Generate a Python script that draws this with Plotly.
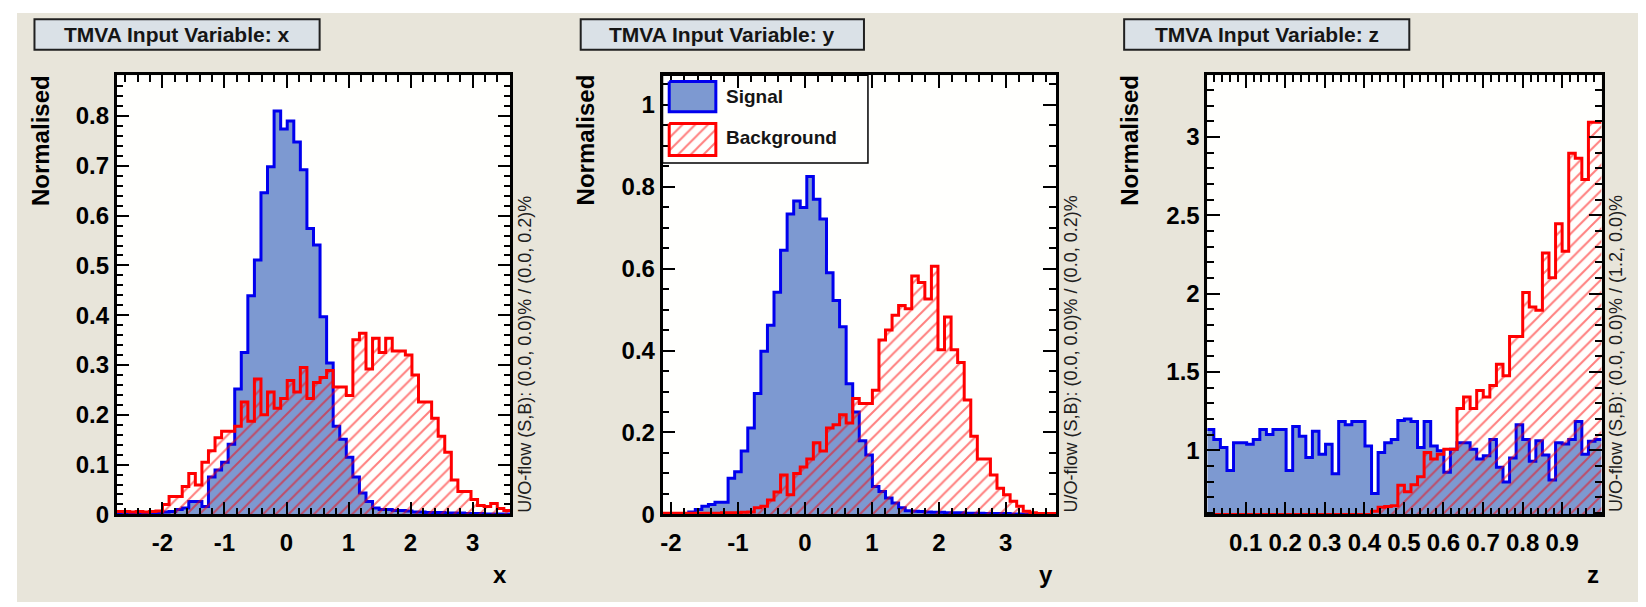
import numpy as np
import plotly.graph_objects as go

W, H = 1646, 607

# ---------------- data ----------------
var_names = ["x", "y", "z"]
titles = ["TMVA Input Variable: x", "TMVA Input Variable: y", "TMVA Input Variable: z"]
uo_texts = ["U/O-flow (S,B): (0.0, 0.0)% / (0.0, 0.2)%",
            "U/O-flow (S,B): (0.0, 0.0)% / (0.0, 0.2)%",
            "U/O-flow (S,B): (0.0, 0.0)% / (1.2, 0.0)%"]
n_bins = 60
hist_range_x = [-2.74, 3.61]
hist_range_y = [-2.125, 3.75]
hist_range_z = [0.003, 0.9995]

x_tick_vals = [-2, -1, 0, 1, 2, 3]
x_tick_text = ["-2", "-1", "0", "1", "2", "3"]
y_tick_vals = [-2, -1, 0, 1, 2, 3]
y_tick_text = ["-2", "-1", "0", "1", "2", "3"]
z_tick_vals = [0.1, 0.2, 0.3, 0.4, 0.5, 0.6, 0.7, 0.8, 0.9]
z_tick_text = ["0.1", "0.2", "0.3", "0.4", "0.5", "0.6", "0.7", "0.8", "0.9"]

sig_x = [0.0, 0.0, 0.0, 0.001, 0.002, 0.003, 0.004, 0.005, 0.006, 0.010,
         0.013, 0.026, 0.026, 0.016, 0.075, 0.089, 0.105, 0.141, 0.252, 0.325,
         0.439, 0.511, 0.646, 0.698, 0.810, 0.774, 0.790, 0.748, 0.692, 0.574,
         0.541, 0.397, 0.304, 0.177, 0.151, 0.115, 0.075, 0.043, 0.026, 0.013,
         0.010, 0.010, 0.008, 0.008, 0.007, 0.005, 0.005, 0.004, 0.004, 0.004,
         0.003, 0.003, 0.003, 0.002, 0.002, 0.002, 0.001, 0.001, 0.001, 0.001]
bkg_x = [0.006, 0.006, 0.005, 0.006, 0.005, 0.006, 0.007, 0.020, 0.036, 0.036,
         0.056, 0.082, 0.059, 0.105, 0.128, 0.154, 0.167, 0.167, 0.177, 0.226,
         0.187, 0.272, 0.200, 0.246, 0.213, 0.233, 0.269, 0.246, 0.295, 0.233,
         0.265, 0.275, 0.289, 0.256, 0.256, 0.239, 0.351, 0.364, 0.292, 0.354,
         0.325, 0.354, 0.328, 0.328, 0.320, 0.280, 0.226, 0.226, 0.193, 0.157,
         0.125, 0.069, 0.046, 0.046, 0.030, 0.018, 0.016, 0.022, 0.012, 0.008]

sig_y = [0.0, 0.0, 0.001, 0.002, 0.006, 0.012, 0.020, 0.024, 0.030, 0.030,
         0.088, 0.104, 0.155, 0.211, 0.295, 0.398, 0.462, 0.542, 0.645, 0.733,
         0.765, 0.749, 0.825, 0.769, 0.721, 0.590, 0.522, 0.458, 0.319, 0.250,
         0.180, 0.145, 0.068, 0.056, 0.040, 0.028, 0.016, 0.009, 0.008, 0.007,
         0.006, 0.005, 0.005, 0.004, 0.004, 0.004, 0.003, 0.003, 0.003, 0.002,
         0.002, 0.002, 0.002, 0.001, 0.001, 0.001, 0.001, 0.0, 0.0, 0.0]
bkg_y = [0.003, 0.003, 0.003, 0.003, 0.003, 0.003, 0.003, 0.003, 0.003, 0.004,
         0.004, 0.004, 0.005, 0.006, 0.016, 0.020, 0.035, 0.055, 0.096, 0.048,
         0.100, 0.116, 0.135, 0.175, 0.155, 0.211, 0.219, 0.243, 0.223, 0.283,
         0.271, 0.271, 0.303, 0.426, 0.450, 0.486, 0.510, 0.502, 0.582, 0.566,
         0.526, 0.606, 0.402, 0.482, 0.402, 0.371, 0.279, 0.191, 0.135, 0.135,
         0.096, 0.064, 0.048, 0.032, 0.020, 0.008, 0.004, 0.002, 0.002, 0.002]

sig_z = [1.132, 1.069, 1.017, 0.871, 1.048, 1.048, 1.038, 1.069, 1.132, 1.100,
         1.132, 1.132, 0.871, 1.152, 1.090, 0.954, 1.121, 0.975, 1.038, 0.850,
         1.184, 1.163, 1.184, 1.184, 1.027, 0.724, 0.985, 1.048, 1.069, 1.190,
         1.200, 1.184, 1.017, 1.184, 1.027, 0.996, 0.860, 1.006, 1.048, 1.048,
         1.006, 0.944, 0.964, 1.069, 0.891, 0.797, 0.950, 1.163, 1.069, 0.930,
         1.060, 0.970, 0.810, 1.048, 1.040, 1.069, 1.184, 0.975, 1.058, 1.069]
# bins 0-24 lie below the visible axis minimum (estimates)
bkg_z = [0.00, 0.00, 0.00, 0.01, 0.01, 0.02, 0.02, 0.03, 0.04, 0.05,
         0.06, 0.08, 0.09, 0.11, 0.13, 0.15, 0.17, 0.20, 0.23, 0.26,
         0.30, 0.34, 0.38, 0.43, 0.52, 0.610, 0.635, 0.641, 0.645, 0.777,
         0.735, 0.780, 0.830, 0.985, 0.944, 0.975, 1.006, 1.006, 1.267, 1.340,
         1.267, 1.382, 1.340, 1.413, 1.549, 1.476, 1.727, 1.727, 2.008, 1.914,
         1.894, 2.259, 2.102, 2.447, 2.270, 2.896, 2.864, 2.729, 3.094, 3.094]

y_ranges = [[0.0, 0.882], [0.0, 1.072], [0.59, 3.395]]
y_dticks = [0.1, 0.2, 0.5]
y_minor = [0.02, 0.05, 0.1]
x_minor = [0.2, 0.2, 0.02]

# ---------------- style ----------------
BEIGE = "#e8e5da"
TITLE_FILL = "#dae1e7"
SIG_LINE = "#0000ee"
SIG_FILL = "#7d99d1"
BKG_LINE = "#ff0000"
FONT = "Liberation Sans"

def px_x(p):
    return p / W

def px_y(p):
    return 1 - p / H

frames_x = [(106.7, 501.0), (653.3, 1047.3), (1198.7, 1593.5)]
frame_top, frame_bot = 68.7, 517.5
title_boxes = [(24.5, 310.0), (571.4, 855.0), (1115.5, 1401.0)]
ylabel_x = [30, 576, 1120]

fig = go.Figure()

sigs = [sig_x, sig_y, sig_z]
bkgs = [bkg_x, bkg_y, bkg_z]
ranges = [hist_range_x, hist_range_y, hist_range_z]
tick_vals = [x_tick_vals, y_tick_vals, z_tick_vals]
tick_text = [x_tick_text, y_tick_text, z_tick_text]

hatch = dict(shape="/", fgcolor=BKG_LINE, bgcolor="rgba(0,0,0,0)",
             size=9, solidity=0.22, fillmode="overlay")

for i in range(3):
    edges = np.linspace(ranges[i][0], ranges[i][1], n_bins + 1)
    ymin = y_ranges[i][0]
    s = np.maximum(np.array(sigs[i], dtype=float), ymin)
    b = np.maximum(np.array(bkgs[i], dtype=float), ymin)
    xs = f"x{i+1}" if i else "x"
    ys = f"y{i+1}" if i else "y"
    fig.add_trace(go.Scatter(
        x=edges, y=np.append(s, s[-1]), mode="lines", line_shape="hv",
        line=dict(color=SIG_LINE, width=3), fill="tozeroy", fillcolor=SIG_FILL,
        xaxis=xs, yaxis=ys, showlegend=False, hoverinfo="skip"))
    fig.add_trace(go.Scatter(
        x=edges, y=np.append(b, b[-1]), mode="lines", line_shape="hv",
        line=dict(color=BKG_LINE, width=3), fill="tozeroy",
        fillcolor="rgba(0,0,0,0)", fillpattern=hatch,
        xaxis=xs, yaxis=ys, showlegend=False, hoverinfo="skip"))

# legend swatches (drawn on a full-figure pixel overlay axis)
sw_x0, sw_x1 = 660.0, 706.7
fig.add_trace(go.Scatter(
    x=[sw_x0, sw_x1, sw_x1, sw_x0, sw_x0], y=[75, 75, 106, 106, 75],
    mode="lines", fill="toself", fillcolor=SIG_FILL,
    line=dict(color=SIG_LINE, width=3), xaxis="x4", yaxis="y4",
    showlegend=False, hoverinfo="skip"))
fig.add_trace(go.Scatter(
    x=[sw_x0, sw_x1, sw_x1, sw_x0, sw_x0], y=[118, 118, 150.7, 150.7, 118],
    mode="lines", fill="toself", fillcolor="rgba(0,0,0,0)", fillpattern=hatch,
    line=dict(color=BKG_LINE, width=3), xaxis="x4", yaxis="y4",
    showlegend=False, hoverinfo="skip"))

tickfont = dict(family=FONT, size=24, color="black", weight="bold")
layout = dict(
    width=W, height=H, autosize=False,
    margin=dict(l=0, r=0, t=0, b=0),
    paper_bgcolor="white", plot_bgcolor="rgba(0,0,0,0)",
    showlegend=False,
)

for i in range(3):
    xk = f"xaxis{i+1}" if i else "xaxis"
    yk = f"yaxis{i+1}" if i else "yaxis"
    layout[xk] = dict(
        domain=[px_x(frames_x[i][0]), px_x(frames_x[i][1])],
        range=ranges[i], anchor=f"y{i+1}" if i else "y",
        ticks="inside", ticklen=13, tickwidth=2, tickcolor="black",
        showline=True, linewidth=2.5, linecolor="black", mirror="ticks",
        tickmode="array", tickvals=tick_vals[i], ticktext=tick_text[i],
        showgrid=False, zeroline=False,
        tickfont=tickfont, ticklabelstandoff=5,
        minor=dict(ticks="inside", ticklen=7, tickwidth=1.5, tickcolor="black",
                   dtick=x_minor[i], tick0=0, showgrid=False),
        fixedrange=True)
    layout[yk] = dict(
        domain=[px_y(frame_bot), px_y(frame_top)],
        range=y_ranges[i], anchor=f"x{i+1}" if i else "x",
        ticks="inside", ticklen=13, tickwidth=2, tickcolor="black",
        showline=True, linewidth=2.5, linecolor="black", mirror="ticks",
        dtick=y_dticks[i], tick0=0, showgrid=False, zeroline=False,
        tickfont=tickfont, ticklabelstandoff=0,
        minor=dict(ticks="inside", ticklen=7, tickwidth=1.5, tickcolor="black",
                   dtick=y_minor[i], tick0=0, showgrid=False),
        fixedrange=True)

layout["xaxis4"] = dict(domain=[0, 1], range=[0, W], visible=False,
                        anchor="y4", fixedrange=True)
layout["yaxis4"] = dict(domain=[0, 1], range=[H, 0], visible=False,
                        anchor="x4", fixedrange=True)

shapes = []
# canvas
shapes.append(dict(type="rect", xref="paper", yref="paper",
                   x0=px_x(7), x1=1, y0=0, y1=px_y(5),
                   fillcolor=BEIGE, line=dict(width=0), layer="below"))
for i in range(3):
    shapes.append(dict(type="rect", xref="paper", yref="paper",
                       x0=px_x(frames_x[i][0]), x1=px_x(frames_x[i][1]),
                       y0=px_y(frame_bot), y1=px_y(frame_top),
                       fillcolor="#fffffd", line=dict(width=0), layer="below"))
    shapes.append(dict(type="rect", xref="paper", yref="paper",
                       x0=px_x(title_boxes[i][0]), x1=px_x(title_boxes[i][1]),
                       y0=px_y(42.6), y1=px_y(11.6),
                       fillcolor=TITLE_FILL, line=dict(color="#202020", width=2),
                       layer="above"))
# legend box
shapes.append(dict(type="rect", xref="paper", yref="paper",
                   x0=px_x(653.3), x1=px_x(859), y0=px_y(158.3), y1=px_y(68.7),
                   fillcolor="rgba(0,0,0,0)", line=dict(color="black", width=1.5),
                   layer="above"))
layout["shapes"] = shapes

ann = []
for i in range(3):
    ann.append(dict(text=titles[i], xref="paper", yref="paper",
                    x=px_x((title_boxes[i][0] + title_boxes[i][1]) / 2), y=px_y(27),
                    xanchor="center", yanchor="middle", showarrow=False,
                    font=dict(family=FONT, size=21, color="#151515", weight="bold")))
    ann.append(dict(text="Normalised", xref="paper", yref="paper",
                    x=px_x(ylabel_x[i]), y=px_y(66), xanchor="center", yanchor="top",
                    textangle=-90, showarrow=False,
                    font=dict(family=FONT, size=24, color="black", weight="bold")))
    ann.append(dict(text=var_names[i], xref="paper", yref="paper",
                    x=px_x(frames_x[i][1] - 1), y=px_y(579), xanchor="right",
                    yanchor="middle", showarrow=False,
                    font=dict(family=FONT, size=24, color="black", weight="bold")))
    ann.append(dict(text=uo_texts[i], xref="paper", yref="paper",
                    x=px_x(frames_x[i][1] + 14.5), y=px_y(frame_bot),
                    xanchor="center", yanchor="bottom", textangle=-90,
                    showarrow=False,
                    font=dict(family=FONT, size=18, color="#202020")))
# legend labels
ann.append(dict(text="Signal", xref="paper", yref="paper", x=px_x(715), y=px_y(90.7),
                xanchor="left", yanchor="middle", showarrow=False,
                font=dict(family=FONT, size=19, color="#151515", weight="bold")))
ann.append(dict(text="Background", xref="paper", yref="paper", x=px_x(715), y=px_y(132.3),
                xanchor="left", yanchor="middle", showarrow=False,
                font=dict(family=FONT, size=19, color="#151515", weight="bold")))
layout["annotations"] = ann

fig.update_layout(**layout)
fig.write_html("out.html")
